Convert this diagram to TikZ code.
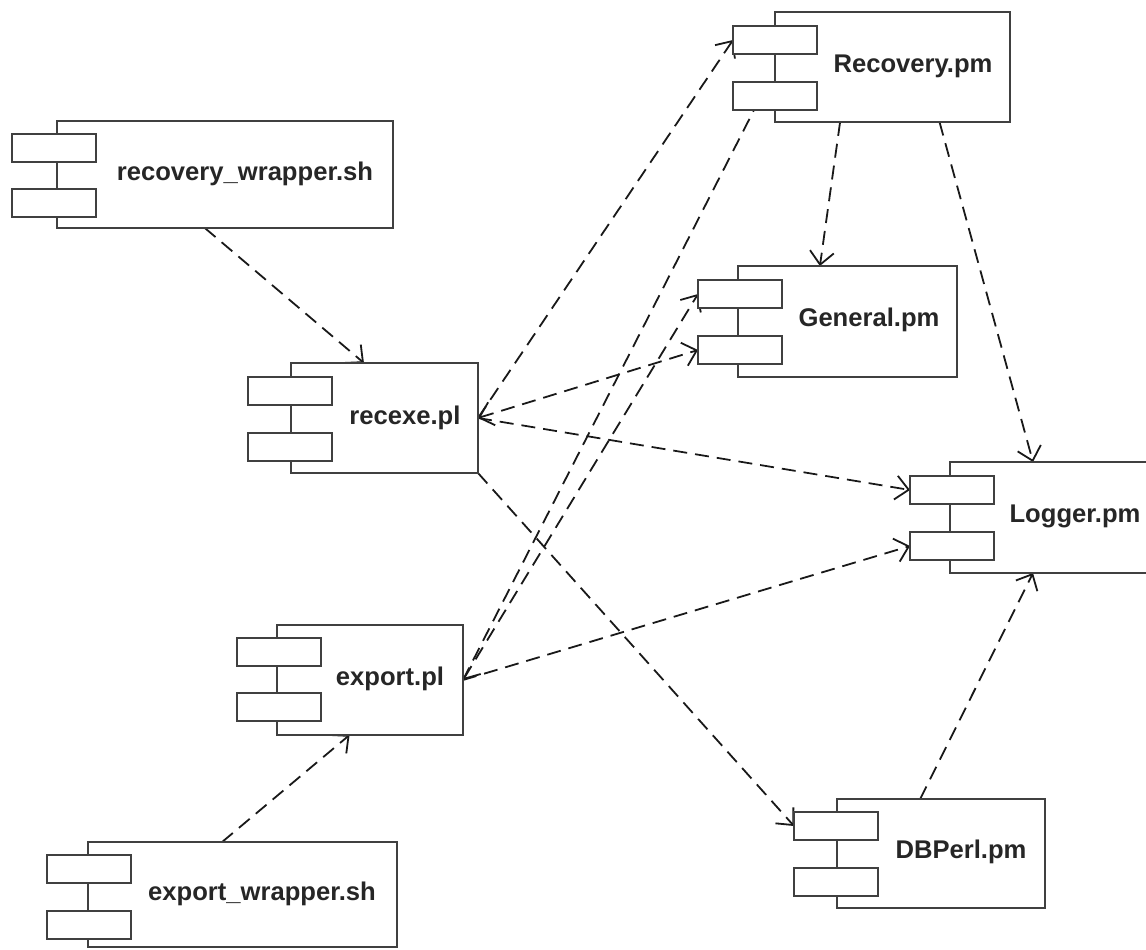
\documentclass[tikz,border=0pt]{standalone}
\usepackage{fontspec}
\setmainfont{Liberation Sans}
\usetikzlibrary{arrows.meta,calc,backgrounds}

\begin{document}
\begin{tikzpicture}[x=1pt,y=1pt,yscale=-1,xscale=1,
  comp/.style={draw=black!75, line width=2.2pt, fill=white, anchor=north west, inner sep=0pt, outer sep=0pt},
  port/.style={comp, minimum width=84pt, minimum height=28pt},
  lbl/.style={font=\fontsize{25.6}{30}\selectfont\bfseries, text=black!85, inner sep=0.75pt},
  dep/.style={draw=black!90, line width=1.8pt, dash pattern=on 14pt off 8pt},
  >={Straight Barb[length=13pt,width=24pt]}]
\useasboundingbox (0,0) rectangle (1146,950);
\clip (0,0) rectangle (1146,950);

%Component: recovery_wrapper.sh
\node[comp, minimum width=336pt, minimum height=107pt] (rw) at (57,121) {};
\node[port] (rw1) at (12,134) {};
\node[port] (rw2) at (12,189) {};
% Text Node
\node[lbl] (rwl) at (245,174) {recovery\_wrapper.sh};

%Component: recexe.pl
\node[comp, minimum width=187pt, minimum height=110pt] (rx) at (291,363) {};
\node[port] (rx1) at (248,377) {};
\node[port] (rx2) at (248,433) {};
% Text Node
\node[lbl] (rxl) at (405,418) {recexe.pl};

%Component: Recovery.pm
\node[comp, minimum width=235pt, minimum height=110pt] (rc) at (775,12) {};
\node[port] (rc1) at (733,26) {};
\node[port] (rc2) at (733,82) {};
% Text Node
\node[lbl] (rcl) at (913,66) {Recovery.pm};

%Component: General.pm
\node[comp, minimum width=219pt, minimum height=111pt] (gn) at (738,266) {};
\node[port] (gn1) at (698,280) {};
\node[port] (gn2) at (698,336) {};
% Text Node
\node[lbl] (gnl) at (869,320) {General.pm};

%Component: Logger.pm
\node[comp, minimum width=206pt, minimum height=111pt] (lg) at (950,462) {};
\node[port] (lg1) at (910,476) {};
\node[port] (lg2) at (910,532) {};
% Text Node
\node[lbl] (lgl) at (1075,516) {Logger.pm};

%Component: export.pl
\node[comp, minimum width=186pt, minimum height=110pt] (ex) at (277,625) {};
\node[port] (ex1) at (237,638) {};
\node[port] (ex2) at (237,693) {};
% Text Node
\node[lbl] (exl) at (390,679) {export.pl};

%Component: export_wrapper.sh
\node[comp, minimum width=309pt, minimum height=105pt] (ew) at (88,842) {};
\node[port] (ew1) at (47,855) {};
\node[port] (ew2) at (47,911) {};
% Text Node
\node[lbl] (ewl) at (262,894) {export\_wrapper.sh};

%Component: DBPerl.pm
\node[comp, minimum width=208pt, minimum height=109pt] (db) at (837,799) {};
\node[port] (db1) at (794,812) {};
\node[port] (db2) at (794,868) {};
% Text Node
\node[lbl] (dbl) at (961,852) {DBPerl.pm};

%Dependencies
\begin{scope}[on background layer]
\draw[dep, ->] ($(rw.south west)!0.44!(rw.south east)$) -- ($(rx.north west)!0.39!(rx.north east)$);
\draw[dep, ->] (rx.east) -- (rc1.west);
\draw[dep, <->] (rx.east) -- (gn2.west);
\draw[dep, ->] (rx.east) -- (lg1.west);
\draw[dep, ->] (rx.south east) -- (db1.west);
\draw[dep, ->] ($(rc.south west)!0.277!(rc.south east)$) -- ($(gn.north west)!0.374!(gn.north east)$);
\draw[dep, ->] ($(rc.south west)!0.70!(rc.south east)$) -- ($(lg.north west)!0.403!(lg.north east)$);
\draw[dep, ->] (ex.east) -- ($(rc2.north west)!0.42!(rc2.north east)$);
\draw[dep, <->] (ex.east) -- (gn1.west);
\draw[dep, ->] (ex.east) -- (lg2.west);
\draw[dep, ->] ($(db.north west)!0.40!(db.north east)$) -- ($(lg.south west)!0.403!(lg.south east)$);
\draw[dep, ->] ($(ew.north west)!0.434!(ew.north east)$) -- ($(ex.south west)!0.39!(ex.south east)$);
\end{scope}

\end{tikzpicture}
\end{document}
